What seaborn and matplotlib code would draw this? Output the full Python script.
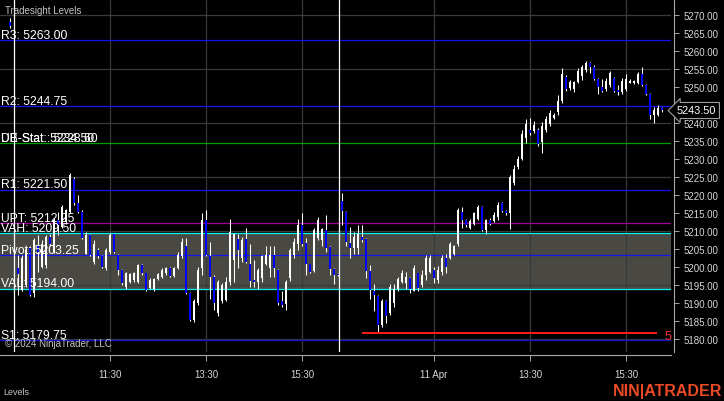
import numpy as np
import pandas as pd
import matplotlib
matplotlib.use("Agg")
import matplotlib.pyplot as plt
import matplotlib.transforms as mtransforms
from matplotlib.ticker import FuncFormatter
import seaborn as sns

# ---------------- data (5-minute bars) ----------------
prior_open = [5268.00]
prior_high = [5269.25]
prior_low = [5266.50]
prior_close = [5267.00]

day1_open = [5199.75, 5193.75, 5195.00, 5205.25, 5192.75, 5205.75, 5200.00, 5200.50, 5208.50, 5204.25,
             5213.00, 5211.25, 5212.50, 5215.25, 5224.50, 5217.75, 5215.25, 5203.75, 5209.00, 5201.50,
             5204.75, 5203.00, 5199.75, 5204.25, 5209.25, 5203.25, 5199.25, 5194.50, 5196.00, 5196.50,
             5196.00, 5200.50, 5198.25, 5194.25, 5194.00, 5196.75, 5197.25, 5198.25, 5199.75, 5197.50,
             5199.75, 5203.00, 5205.75, 5192.75, 5185.25, 5190.00, 5199.75, 5213.00, 5203.00, 5197.25,
             5187.25, 5190.50, 5191.00, 5196.00, 5202.00, 5207.75, 5202.50, 5207.75, 5201.00, 5196.50,
             5196.00, 5197.00, 5201.00, 5199.75, 5203.25, 5199.25, 5190.50, 5189.75, 5197.00, 5203.25,
             5206.50, 5211.75, 5206.75, 5200.75, 5199.00, 5208.00, 5207.50, 5210.25, 5205.50, 5199.50,
             5198.00]
day1_high = [5203.25, 5203.25, 5205.50, 5206.00, 5208.00, 5209.00, 5207.50, 5209.00, 5209.25, 5213.75,
             5215.25, 5217.25, 5216.25, 5226.25, 5225.00, 5220.00, 5215.75, 5209.75, 5209.25, 5207.50,
             5205.25, 5203.25, 5205.25, 5209.50, 5209.50, 5203.75, 5199.50, 5198.75, 5198.25, 5198.75,
             5201.00, 5200.75, 5198.50, 5197.00, 5197.00, 5198.25, 5199.75, 5200.00, 5200.00, 5200.00,
             5204.25, 5208.00, 5208.00, 5193.00, 5191.25, 5200.00, 5215.00, 5215.75, 5207.00, 5197.75,
             5196.50, 5195.50, 5197.25, 5213.25, 5209.50, 5209.25, 5208.50, 5210.75, 5206.50, 5202.00,
             5199.75, 5203.25, 5205.75, 5206.00, 5206.00, 5199.50, 5193.25, 5196.50, 5205.25, 5208.00,
             5213.25, 5215.00, 5208.00, 5201.00, 5210.75, 5214.00, 5210.75, 5214.50, 5205.75, 5199.75,
             5198.25]
day1_low = [5192.25, 5193.25, 5194.50, 5192.00, 5191.75, 5198.75, 5199.75, 5199.75, 5205.75, 5204.00,
            5209.00, 5210.75, 5212.00, 5215.00, 5217.25, 5215.00, 5207.75, 5203.75, 5203.00, 5201.00,
            5202.50, 5199.75, 5199.25, 5203.75, 5204.00, 5197.75, 5195.00, 5194.00, 5195.50, 5196.00,
            5195.50, 5197.75, 5193.50, 5194.00, 5193.50, 5196.50, 5197.00, 5197.75, 5197.25, 5197.25,
            5199.50, 5202.50, 5192.50, 5185.00, 5184.75, 5189.50, 5197.75, 5203.00, 5191.25, 5188.00,
            5186.50, 5190.00, 5190.50, 5195.00, 5196.00, 5199.75, 5201.50, 5201.25, 5194.50, 5194.50,
            5194.00, 5196.00, 5200.50, 5197.25, 5197.25, 5189.50, 5189.00, 5188.00, 5196.25, 5202.50,
            5204.75, 5206.00, 5197.75, 5198.25, 5198.75, 5207.50, 5206.00, 5204.25, 5197.75, 5195.25,
            5197.50]
day1_close = [5198.00, 5202.50, 5204.75, 5192.25, 5207.50, 5204.25, 5206.50, 5208.50, 5206.50, 5213.00,
              5211.75, 5216.75, 5215.75, 5225.50, 5217.75, 5215.25, 5208.00, 5209.00, 5203.25, 5206.50,
              5203.00, 5200.00, 5204.75, 5209.00, 5204.25, 5199.25, 5195.50, 5198.25, 5198.00, 5198.25,
              5200.50, 5198.25, 5193.75, 5196.50, 5196.75, 5198.00, 5199.25, 5199.75, 5197.50, 5199.75,
              5203.25, 5207.00, 5192.75, 5185.25, 5190.50, 5199.25, 5213.00, 5203.25, 5197.25, 5190.00,
              5196.00, 5195.00, 5196.00, 5209.75, 5209.25, 5204.75, 5207.50, 5201.50, 5196.25, 5196.00,
              5199.25, 5203.00, 5203.25, 5203.25, 5199.75, 5190.00, 5189.50, 5196.00, 5204.75, 5207.00,
              5211.75, 5206.50, 5201.00, 5198.75, 5210.25, 5213.00, 5210.50, 5205.25, 5199.50, 5197.75,
              5197.75]

day2_open = [5218.50, 5215.25, 5206.75, 5205.25, 5205.25, 5208.25, 5207.75, 5199.00, 5193.50, 5192.00,
             5184.00, 5190.50, 5187.25, 5190.00, 5194.00, 5196.00, 5195.50, 5197.00, 5193.50, 5198.25,
             5195.00, 5197.75, 5198.75, 5199.25, 5196.50, 5198.75, 5202.50, 5202.50, 5203.75, 5206.50,
             5215.25, 5213.00, 5211.00, 5212.00, 5213.50, 5216.75, 5210.25, 5213.00, 5212.75, 5214.00,
             5217.75, 5215.50, 5215.00, 5223.25, 5227.75, 5230.00, 5235.75, 5238.00, 5237.75, 5238.00,
             5234.75, 5238.00, 5239.75, 5241.50, 5243.00, 5246.25, 5252.75, 5249.75, 5249.50, 5251.50,
             5253.00, 5254.75, 5256.75, 5255.50, 5252.25, 5250.00, 5249.50, 5250.50, 5252.50, 5249.25,
             5248.75, 5249.50, 5251.25, 5251.00, 5251.00, 5253.75, 5250.50, 5248.00, 5242.25, 5242.25,
             5244.25]
day2_high = [5220.50, 5215.50, 5211.25, 5209.75, 5211.75, 5211.75, 5208.00, 5200.50, 5195.25, 5192.25,
             5191.25, 5190.75, 5195.25, 5195.25, 5197.25, 5199.25, 5198.75, 5197.25, 5200.50, 5198.50,
             5199.25, 5203.25, 5203.50, 5200.00, 5200.25, 5203.50, 5203.75, 5207.00, 5206.25, 5216.50,
             5216.75, 5213.25, 5213.25, 5215.25, 5217.25, 5217.00, 5213.50, 5213.75, 5215.25, 5218.00,
             5218.00, 5215.75, 5225.50, 5228.25, 5231.00, 5238.00, 5241.25, 5241.50, 5240.50, 5238.50,
             5240.25, 5242.00, 5243.75, 5242.75, 5247.75, 5255.25, 5253.25, 5252.00, 5251.75, 5255.25,
             5256.25, 5257.25, 5257.00, 5256.00, 5252.50, 5252.25, 5252.50, 5254.50, 5252.75, 5250.50,
             5252.50, 5253.50, 5252.25, 5252.00, 5254.25, 5255.50, 5250.75, 5248.25, 5244.50, 5245.00,
             5244.50]
day2_low = [5211.75, 5206.00, 5202.50, 5203.75, 5203.75, 5207.00, 5197.00, 5191.25, 5187.75, 5181.75,
            5183.50, 5184.50, 5186.75, 5189.00, 5193.50, 5195.50, 5194.00, 5192.75, 5193.25, 5193.50,
            5194.50, 5196.50, 5198.25, 5195.50, 5195.50, 5197.75, 5198.25, 5202.25, 5203.50, 5206.00,
            5210.75, 5211.25, 5210.50, 5211.75, 5213.00, 5210.00, 5209.25, 5211.75, 5212.50, 5213.00,
            5215.25, 5214.50, 5210.50, 5222.75, 5227.25, 5229.75, 5234.50, 5236.75, 5237.25, 5233.75,
            5231.75, 5237.50, 5239.25, 5241.00, 5242.25, 5245.50, 5249.00, 5249.25, 5248.75, 5251.25,
            5252.00, 5254.25, 5254.00, 5252.00, 5248.00, 5248.50, 5249.00, 5250.00, 5248.75, 5247.75,
            5248.00, 5249.00, 5251.00, 5250.75, 5250.75, 5250.25, 5247.75, 5241.25, 5240.00, 5242.00,
            5243.00]
day2_close = [5215.50, 5207.00, 5205.25, 5208.50, 5209.25, 5207.50, 5199.00, 5193.75, 5192.25, 5184.00,
              5190.50, 5186.50, 5194.50, 5194.00, 5196.75, 5198.25, 5197.25, 5194.00, 5199.75, 5194.25,
              5197.75, 5202.50, 5202.50, 5197.00, 5199.25, 5202.50, 5200.00, 5206.50, 5206.00, 5215.75,
              5213.00, 5211.75, 5212.75, 5215.00, 5216.75, 5210.25, 5213.00, 5212.00, 5214.50, 5217.25,
              5215.50, 5215.00, 5225.00, 5227.25, 5230.00, 5237.00, 5239.75, 5237.25, 5239.50, 5234.25,
              5239.25, 5241.25, 5242.75, 5242.25, 5246.00, 5253.75, 5249.50, 5251.50, 5251.50, 5254.50,
              5255.50, 5256.75, 5255.50, 5252.25, 5250.00, 5249.00, 5251.75, 5254.00, 5249.00, 5248.50,
              5251.75, 5252.25, 5251.75, 5251.75, 5253.75, 5250.50, 5248.00, 5242.25, 5243.50, 5244.25,
              5243.50]

# session: 9:30 - 16:15, 5-minute bars
bar_minutes = 5
session_bars = 81
x_tick_labels = ["11:30", "13:30", "15:30", "11 Apr", "13:30", "15:30"]
x_tick_day = [0, 0, 0, 1, 1, 1]
x_tick_time = ["11:30", "13:30", "15:30", "11:30", "13:30", "15:30"]

level_labels = ["R3: 5263.00", "R2: 5244.75", "R1: 5221.50", "UPT: 5212.25",
                "VAH: 5209.50", "Pivot: 5203.25", "VAL: 5194.00", "S1: 5179.75"]
level_values = [5263.00, 5244.75, 5221.50, 5212.25, 5209.50, 5203.25, 5194.00, 5179.75]
level_colors = ["#1414f0", "#1414f0", "#1414f0", "#a000a0", "#00f4f4", "#1414f0", "#00f4f4", "#1010c8"]

stat_labels = ["UB-Stat: 5234.50", "DE-Stat.: 5228.60"]
stat_value = 5234.50

value_area = (5194.00, 5209.50)
target_level = 5181.75
target_text = "5"
last_price = 5243.50

# ---------------- build frame ----------------
def slot(day, hhmm):
    h, m = map(int, hhmm.split(":"))
    return day * session_bars + ((h * 60 + m) - (9 * 60 + 30)) / bar_minutes

df = pd.concat([
    pd.DataFrame(dict(x=[-1], o=prior_open, h=prior_high, l=prior_low, c=prior_close)),
    pd.DataFrame(dict(x=np.arange(1, session_bars + 1), o=day1_open, h=day1_high, l=day1_low, c=day1_close)),
    pd.DataFrame(dict(x=np.arange(session_bars + 1, 2 * session_bars + 1), o=day2_open, h=day2_high,
                      l=day2_low, c=day2_close)),
], ignore_index=True)
df["up"] = df["c"] >= df["o"]
df["bottom"] = np.minimum(df["o"], df["c"])
df["height"] = np.maximum((df["c"] - df["o"]).abs(), 0.3)

# ---------------- style ----------------
sns.set_theme(style="dark", rc={"axes.facecolor": "black", "figure.facecolor": "black"})
plt.rcParams["font.family"] = ["Liberation Sans", "DejaVu Sans"]

W, H = 724, 402
fig = plt.figure(figsize=(W / 100, H / 100), dpi=100, facecolor="black")
ax = fig.add_axes([0, 49 / H, 671 / W, 353 / H])
ax.set_facecolor("black")
ax.set_xlim(-3.5, 164.25)
ax.set_ylim(5176.42, 5274.47)

grid_c = "#3a3a3a"
ax.set_axisbelow("line")
for g in np.arange(5180, 5271, 15):
    ax.axhline(g, color=grid_c, lw=0.9, zorder=1.5)
ax.set_xticks([slot(d, t) for d, t in zip(x_tick_day, x_tick_time)])
ax.set_xticklabels(x_tick_labels)
ax.grid(axis="x", color=grid_c, lw=0.9)
ax.grid(axis="y", visible=False)

ax.axhspan(value_area[0], value_area[1], color="#4a4843", lw=0, zorder=1)

for v, c in zip(level_values, level_colors):
    ax.axhline(v, color=c, lw=0.9, zorder=2)
ax.axhline(stat_value, color="#00a000", lw=0.9, zorder=2)

ax.axvline(0, color="white", lw=0.9, zorder=2.6)
ax.axvline(session_bars + 0.25, color="white", lw=0.9, zorder=2.6)

# candles
ax.vlines(df["x"], df["l"], df["h"], color="white", lw=0.75, zorder=3)
up = df[df["up"]]
dn = df[~df["up"]]
ax.bar(up["x"], up["height"], bottom=up["bottom"], width=0.55, color="white", lw=0, zorder=4)
ax.bar(dn["x"], dn["height"], bottom=dn["bottom"], width=0.6, color="#0000ff", lw=0, zorder=4)

# target line
ax.hlines(target_level, 87, 160.75, color="#ff1a1a", lw=1.4, zorder=5)
ax.text(162.6, 5180.0, target_text, color="#ff2a2a", fontsize=9, va="baseline", ha="left", zorder=6)

# level labels
trans = mtransforms.blended_transform_factory(ax.transAxes, ax.transData)
for lbl, v in zip(level_labels, level_values):
    ax.annotate(lbl, xy=(0, v), xycoords=trans, xytext=(0.8, 1.6), textcoords="offset points",
                color="white", fontsize=8.7, va="baseline", ha="left", zorder=7)
for lbl in stat_labels:
    ax.annotate(lbl, xy=(0, stat_value), xycoords=trans, xytext=(0.8, 1.6), textcoords="offset points",
                color="white", fontsize=8.7, va="baseline", ha="left", zorder=7)

# axes / ticks
for s in ["top", "left"]:
    ax.spines[s].set_visible(False)
for s in ["right", "bottom"]:
    ax.spines[s].set_visible(True)
    ax.spines[s].set_color("#a8a8a8")
    ax.spines[s].set_linewidth(0.8)
    ax.spines[s].set_position(("outward", 2.2))
ax.yaxis.tick_right()
ax.set_yticks(np.arange(5180, 5271, 5))
ax.yaxis.set_major_formatter(FuncFormatter(lambda v, p: f"{v:.2f}"))
ax.tick_params(axis="y", which="both", right=True, left=False, colors="#a8a8a8", labelcolor="#d6d6d6",
               length=3.6, width=0.7, pad=3, labelsize=7)
ax.tick_params(axis="x", bottom=True, colors="#a8a8a8", labelcolor="#d6d6d6",
               length=4.3, width=0.7, pad=6, labelsize=7)
ax.set_xlabel("")
ax.set_ylabel("")

# last price marker
ax.text(1.009, last_price, f"{last_price:.2f}", transform=trans, color="white", fontsize=7.8,
        ha="left", va="center", clip_on=False, zorder=20,
        bbox=dict(boxstyle="larrow,pad=0.28", fc="black", ec="#a0a0a0", lw=0.8))

# figure texts
fig.text(5 / W, 1 - 11 / H, "Tradesight Levels", color="#c4c4c4", fontsize=7, va="center", ha="left")
fig.text(5 / W, 1 - 344 / H, "\u00a9 2024 NinjaTrader, LLC", color="#c4c4c4", fontsize=7, va="center", ha="left")
fig.text(3 / W, 1 - 393 / H, "Levels", color="#c4c4c4", fontsize=6.5, va="center", ha="left")
fig.text(722 / W, 1 - 392 / H, "NIN|ATRADER", color="#ea4b26", fontsize=11.5, fontweight="bold",
         va="center", ha="right")

fig.savefig("out.png", dpi=100, facecolor="black")
